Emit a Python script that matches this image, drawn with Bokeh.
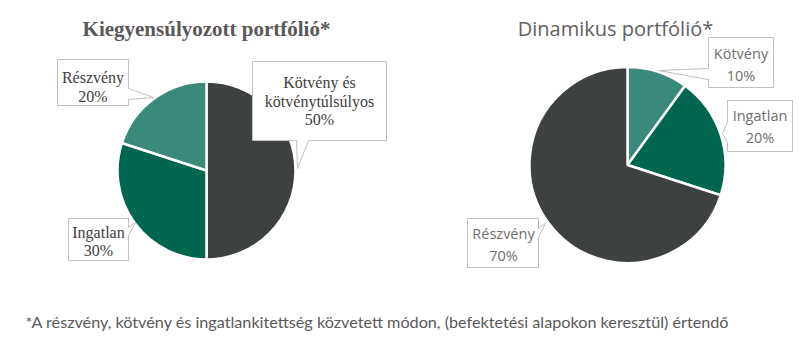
import math
from bokeh.plotting import figure
from bokeh.models import Range1d, ColumnDataSource
from bokeh.core.properties import value
from bokeh.embed import file_html
from bokeh.resources import INLINE

# ---------------- data ----------------
left_title = "Kiegyensúlyozott portfólió*"
left_labels = ["Kötvény és\nkötvénytúlsúlyos", "Ingatlan", "Részvény"]
left_values = [50, 30, 20]
left_colors = ["#3d4142", "#00664f", "#3a8a7b"]

right_title = "Dinamikus portfólió*"
right_labels = ["Kötvény", "Ingatlan", "Részvény"]
right_values = [10, 20, 70]
right_colors = ["#3a8a7b", "#00664f", "#3d4142"]

footnote = "*A részvény, kötvény és ingatlankitettség közvetett módon, (befektetési alapokon keresztül) értendő"

# ---------------- layout ----------------
W, H = 800, 355
def Y(y):
    return H - y

p = figure(width=W, height=H, x_range=Range1d(0, W), y_range=Range1d(0, H),
           output_backend="svg", toolbar_location=None, min_border=0)
p.axis.visible = False
p.grid.visible = False
p.outline_line_color = None
p.background_fill_color = "white"
p.border_fill_color = "white"

def draw_pie(cx, cy, r, values, colors):
    total = float(sum(values))
    starts, ends = [], []
    acc = 0.0
    for v in values:
        a0 = acc / total
        acc += v
        a1 = acc / total
        # clockwise from 12 o'clock
        starts.append(math.pi / 2 - a1 * 2 * math.pi)
        ends.append(math.pi / 2 - a0 * 2 * math.pi)
    src = ColumnDataSource(dict(x=[cx] * len(values), y=[Y(cy)] * len(values),
                                s=starts, e=ends, c=colors))
    p.wedge(x="x", y="y", radius=r, radius_units="screen", start_angle="s", end_angle="e",
            fill_color="c", line_color="white", line_width=2.5, source=src)

draw_pie(206, 170, 89, left_values, left_colors)
draw_pie(627, 164.5, 98, right_values, right_colors)

# callouts: box (x0, y0, x1, y1), side, base (a, b), tip (tx, ty)
def callout(box, side, base, tip):
    x0, y0, x1, y1 = box
    a, b = base
    tx, ty = tip
    if side == "right":
        pts = [(x0, y0), (x1, y0), (x1, a), (tx, ty), (x1, b), (x1, y1), (x0, y1)]
    elif side == "left":
        pts = [(x0, y0), (x1, y0), (x1, y1), (x0, y1), (x0, b), (tx, ty), (x0, a)]
    else:  # bottom
        pts = [(x0, y0), (x1, y0), (x1, y1), (b, y1), (tx, ty), (a, y1), (x0, y1)]
    return [q[0] for q in pts], [Y(q[1]) for q in pts]

left_callouts = [
    ((252, 61, 386, 140), "bottom", (296, 308), (297, 168)),
    ((68, 218, 128, 260), "right", (227, 235), (135, 222)),
    ((57, 59, 128, 105), "right", (88, 99), (153, 97)),
]
right_callouts = [
    ((708, 37, 773, 87), "left", (68, 79), (658, 70)),
    ((727, 100, 792, 151), "left", (122, 142), (722, 133)),
    ((467, 218, 538, 267), "right", (228, 237), (545, 223)),
]
xs, ys = [], []
for c in left_callouts + right_callouts:
    px, py = callout(*c)
    xs.append(px)
    ys.append(py)
p.patches(xs, ys, fill_color="white", line_color="#bfbfbf", line_width=1)

def label_block(cx, cy, label, val, font, size, color, ls):
    lines = label.split("\n") + [f"{val}%"]
    n = len(lines)
    ty = [Y(cy + (i - (n - 1) / 2) * ls) for i in range(n)]
    p.text(x=[cx] * n, y=ty, text=lines, text_font=value(font), text_font_size=size,
           text_color=color, text_align="center", text_baseline="middle")

left_pos = [(319, 100.5), (98, 241), (92.5, 86.5)]
for (cx, cy), lab, v in zip(left_pos, left_labels, left_values):
    label_block(cx, cy, lab, v, "Liberation Serif", "16px", "#404040", 18.5)

right_pos = [(740.5, 64), (759.5, 126), (503, 244)]
for (cx, cy), lab, v in zip(right_pos, right_labels, right_values):
    label_block(cx, cy, lab, v, "Open Sans", "14.5px", "#6e6e6e", 22)

# titles
p.text(x=[206], y=[Y(28)], text=[left_title], text_font=value("Liberation Serif"),
       text_font_size="21px", text_font_style="bold", text_color="#595959",
       text_align="center", text_baseline="middle")
p.text(x=[615], y=[Y(28)], text=[right_title], text_font=value("Open Sans"),
       text_font_size="20px", text_color="#606060",
       text_align="center", text_baseline="middle")

# footnote
p.text(x=[25], y=[Y(321)], text=[footnote], text_font=value("Lato"),
       text_font_size="16.2px", text_color="#595959",
       text_align="left", text_baseline="middle")

open("out.html", "w").write(file_html(p, INLINE))
